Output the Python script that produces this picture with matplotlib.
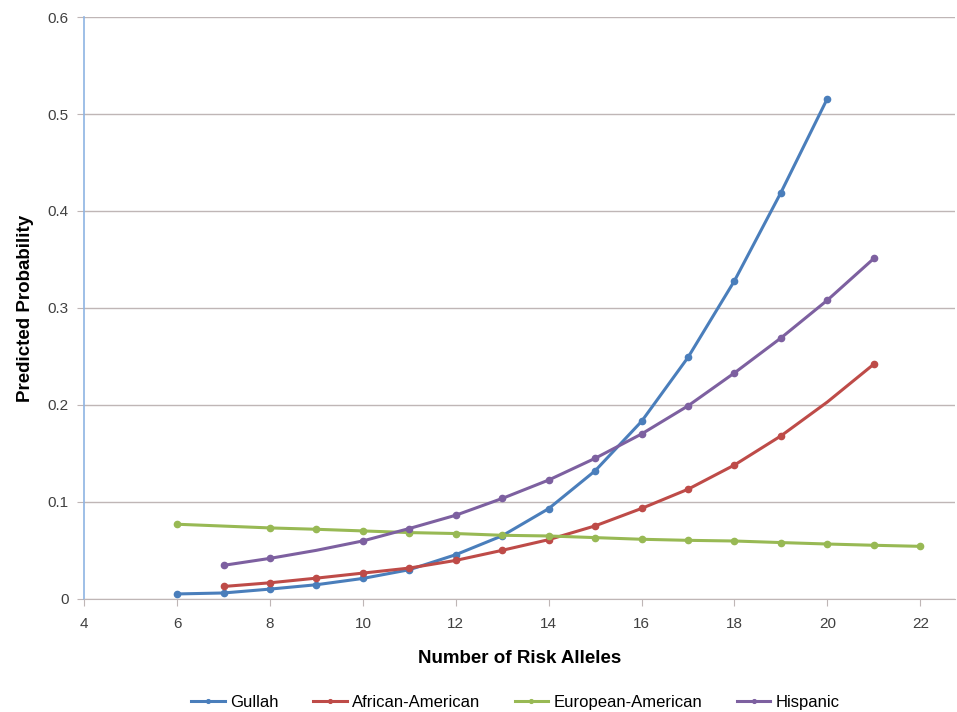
import numpy as np
import matplotlib
matplotlib.use('Agg')
import matplotlib.pyplot as plt

plt.rcParams['font.family'] = ['Liberation Sans', 'DejaVu Sans']

# data
gullah_x = [6, 7, 8, 9, 10, 11, 12, 13, 14, 15, 16, 17, 18, 19, 20]
gullah_y = [0.005, 0.006, 0.010, 0.0145, 0.021, 0.030, 0.0455, 0.065, 0.093, 0.132, 0.183, 0.249, 0.328, 0.419, 0.516]

afam_x = [7, 8, 9, 10, 11, 12, 13, 14, 15, 16, 17, 18, 19, 20, 21]
afam_y = [0.0127, 0.0165, 0.0213, 0.0265, 0.0317, 0.0396, 0.050, 0.061, 0.0752, 0.0932, 0.113, 0.138, 0.168, 0.203, 0.242]

euam_x = [6, 7, 8, 9, 10, 11, 12, 13, 14, 15, 16, 17, 18, 19, 20, 21, 22]
euam_y = [0.0769, 0.075, 0.0731, 0.0717, 0.070, 0.0683, 0.0673, 0.0655, 0.0648, 0.0631,
          0.0614, 0.0603, 0.0596, 0.058, 0.0565, 0.0552, 0.0541]

hisp_x = [7, 8, 9, 10, 11, 12, 13, 14, 15, 16, 17, 18, 19, 20, 21]
hisp_y = [0.0345, 0.0417, 0.050, 0.0597, 0.0725, 0.0862, 0.1035, 0.1225, 0.1449, 0.170, 0.199, 0.233, 0.269, 0.308, 0.351]

names = ['Gullah', 'African-American', 'European-American', 'Hispanic']
colors = ['#4a7ebb', '#be4b48', '#98b954', '#7d60a0']
# x values where the original shows no dot
no_dot = [[], [20], [7], [9]]

fig = plt.figure(figsize=(9.57, 7.12), dpi=100)
ax = fig.add_axes([0.088, 0.159, 0.910, 0.817])

series = [(gullah_x, gullah_y), (afam_x, afam_y), (euam_x, euam_y), (hisp_x, hisp_y)]
for (xs, ys), name, c, skip in zip(series, names, colors, no_dot):
    me = [i for i, x in enumerate(xs) if x not in skip]
    ax.plot(xs, ys, color=c, lw=2.2, marker='o', ms=4.5, markevery=me, label=name, zorder=3)

ax.set_xlim(4, 22.75)
ax.set_ylim(0, 0.6)
ax.set_xticks(np.arange(4, 23, 2))
ax.set_yticks(np.arange(0, 0.61, 0.1))
ax.set_yticklabels(['0', '0.1', '0.2', '0.3', '0.4', '0.5', '0.6'])

ax.grid(axis='y', color='#bfb6b6', lw=1)
ax.set_axisbelow(True)
for s in ['top', 'right']:
    ax.spines[s].set_visible(False)
ax.spines['left'].set_color('#8eb4e3')
ax.spines['bottom'].set_color('#bfb6b6')
ax.spines['left'].set_linewidth(1.2)
ax.tick_params(axis='x', colors='#bfb6b6', labelcolor='#404040', length=5, labelsize=11, pad=8)
ax.tick_params(axis='y', colors='#bfb6b6', labelcolor='#404040', length=5, labelsize=11, pad=6)

ax.set_xlabel('Number of Risk Alleles', fontsize=13.5, fontweight='bold', labelpad=14)
ax.set_ylabel('Predicted Probability', fontsize=13.5, fontweight='bold', labelpad=10)

ax.legend(loc='upper center', bbox_to_anchor=(0.495, -0.14), ncol=4, frameon=False,
          fontsize=12, handlelength=2.0, handletextpad=0.3, columnspacing=2.1, markerscale=0.6)

fig.savefig('out.png', dpi=100)
